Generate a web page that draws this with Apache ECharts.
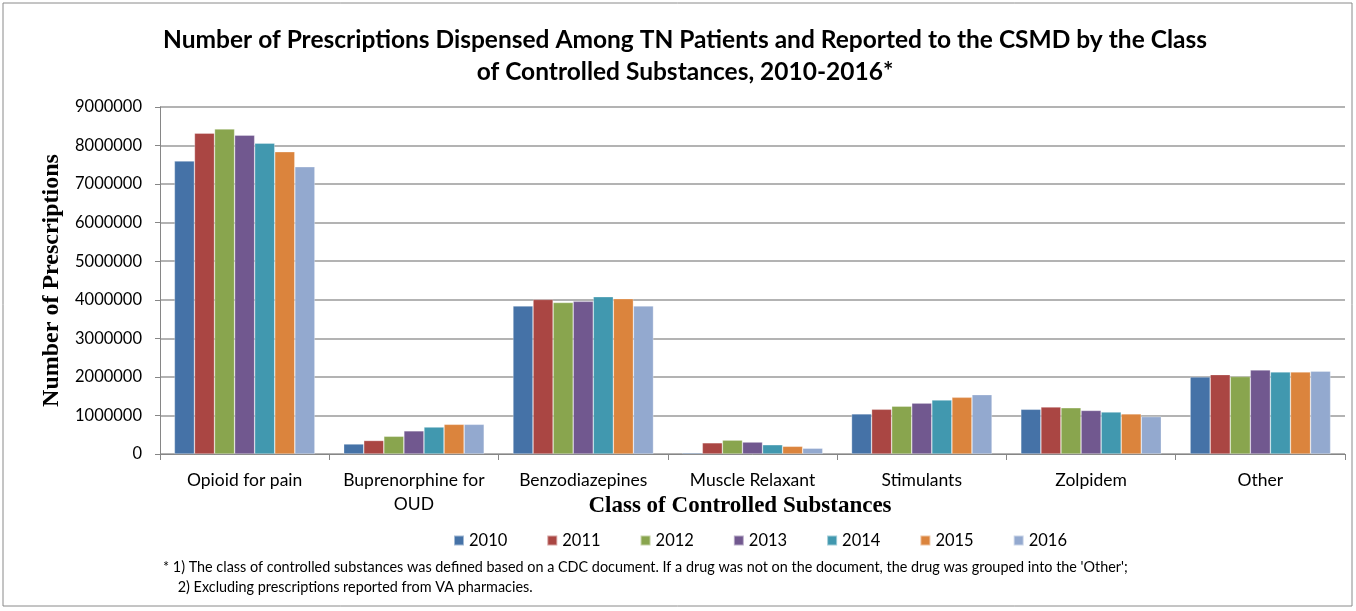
<!DOCTYPE html>
<html>
<head>
<meta charset="utf-8">
<script src="https://cdn.jsdelivr.net/npm/echarts@6/dist/echarts.min.js"></script>
<style>
  html, body { margin: 0; padding: 0; background: #fff; }
  #chart { width: 1356px; height: 611px; }
</style>
</head>
<body>
<div id="chart"></div>
<script>
const categories = ['Opioid for pain', 'Buprenorphine for\nOUD', 'Benzodiazepines', 'Muscle Relaxant', 'Stimulants', 'Zolpidem', 'Other']
const years = ['2010', '2011', '2012', '2013', '2014', '2015', '2016']
const colors = ['#4572A7', '#AA4643', '#89A54E', '#71588F', '#4198AF', '#DB843D', '#93A9CF']

// one array per class, values for 2010..2016
const opioid = [7600000, 8320000, 8430000, 8270000, 8060000, 7840000, 7450000]
const bupren = [260000, 350000, 460000, 600000, 700000, 770000, 770000]
const benzo = [3840000, 4010000, 3930000, 3960000, 4080000, 4030000, 3840000]
const muscle = [30000, 290000, 360000, 310000, 240000, 200000, 150000]
const stimul = [1040000, 1160000, 1240000, 1320000, 1400000, 1470000, 1540000]
const zolpidem = [1160000, 1220000, 1200000, 1130000, 1090000, 1040000, 970000]
const other = [2000000, 2060000, 2010000, 2180000, 2130000, 2130000, 2150000]

const byClass = [opioid, bupren, benzo, muscle, stimul, zolpidem, other]

const footnote = "* 1) The class of controlled substances was defined based on a CDC document. If a drug was not on the document, the drug was grouped into the 'Other';\n    2) Excluding prescriptions reported from VA pharmacies."

const font = 'Lato, "Open Sans", sans-serif'
const serif = '"Liberation Serif", "DejaVu Serif", serif'

let option = {
  animation: false,
  color: colors,
  title: {
    text: 'Number of Prescriptions Dispensed Among TN Patients and Reported to the CSMD by the Class\nof Controlled Substances, 2010-2016*',
    left: 680,
    top: 19,
    textAlign: 'center',
    textStyle: {
      fontFamily: font,
      fontWeight: 'bold',
      fontSize: 24.5,
      lineHeight: 32,
      color: '#000'
    }
  },
  legend: {
    data: years,
    top: 527,
    left: 448,
    itemWidth: 10,
    itemHeight: 10,
    itemGap: 39,
    icon: 'rect',
    textStyle: { fontFamily: font, fontSize: 16.5, color: '#000' }
  },
  grid: {
    left: 160,
    right: 11,
    top: 107,
    bottom: 157
  },
  xAxis: {
    type: 'category',
    data: categories,
    axisLine: { lineStyle: { color: '#868686', width: 1 } },
    axisTick: { show: true, alignWithLabel: false, length: 6, lineStyle: { color: '#868686' } },
    axisLabel: {
      interval: 0,
      hideOverlap: false,
      fontFamily: font,
      fontSize: 17.5,
      color: '#000',
      margin: 14,
      lineHeight: 24,
      verticalAlign: 'top'
    }
  },
  yAxis: {
    type: 'value',
    min: 0,
    max: 9000000,
    interval: 1000000,
    name: 'Number of Prescriptions',
    nameLocation: 'middle',
    nameGap: 85,
    nameTextStyle: {
      fontFamily: serif,
      fontWeight: 'bold',
      fontSize: 24,
      color: '#000'
    },
    axisLine: { show: true, lineStyle: { color: '#868686' } },
    axisTick: { show: true, length: 5, lineStyle: { color: '#868686' } },
    splitLine: { lineStyle: { color: '#9a9a9a', width: 1.5 } },
    axisLabel: {
      fontFamily: font,
      fontSize: 16.5,
      color: '#000',
      margin: 18,
      formatter: v => String(v)
    }
  },
  series: years.map((y, i) => ({
    name: y,
    type: 'bar',
    data: byClass.map(arr => arr[i]),
    barGap: '0%',
    barCategoryGap: '17%',
    itemStyle: { borderColor: 'rgba(255,255,255,0.5)', borderWidth: 0.6 }
  })),
  graphic: [
    {
      type: 'rect',
      shape: { x: 3, y: 3, width: 1349, height: 603 },
      style: { fill: 'none', stroke: '#8a8a8a', lineWidth: 1 },
      silent: true
    },
    {
      type: 'text',
      x: 740,
      y: 506,
      style: {
        text: 'Class of Controlled Substances',
        fontFamily: serif,
        fontWeight: 'bold',
        fontSize: 23,
        fill: '#000',
        align: 'center',
        verticalAlign: 'middle'
      }
    },
    {
      type: 'text',
      left: 163,
      top: 557,
      style: {
        text: footnote,
        fontFamily: font,
        fontSize: 14.4,
        lineHeight: 20,
        fill: '#000'
      }
    }
  ]
}

let chart = echarts.init(document.getElementById('chart'))
chart.setOption(option)
</script>
</body>
</html>
